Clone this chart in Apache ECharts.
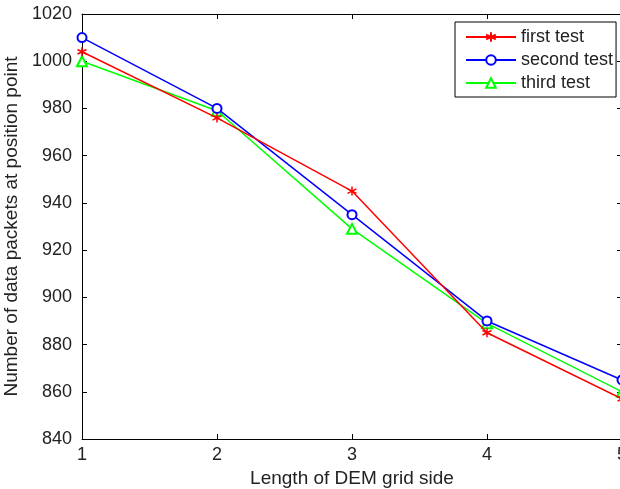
<!DOCTYPE html>
<html>
<head>
<meta charset="utf-8">
<script src="https://cdn.jsdelivr.net/npm/echarts@6/dist/echarts.min.js"></script>
<style>
  html, body { margin: 0; padding: 0; background: #fff; }
  #chart { width: 620px; height: 489px; }
</style>
</head>
<body>
<div id="chart"></div>
<script>
// data
var gridSide = [1, 2, 3, 4, 5];
var firstTest = [1004, 976, 945, 885, 857];
var secondTest = [1010, 980, 935, 890, 865];
var thirdTest = [1000, 979, 929, 889, 860];
var seriesNames = ["first test", "second test", "third test"];

function pairs(ys) {
  return gridSide.map(function (x, i) {
    return [x, ys[i]];
  });
}

function plain(v) {
  return String(v);
}

var asterisk = "path://M0,-5L0,5M-4.33,-2.5L4.33,2.5M-4.33,2.5L4.33,-2.5";
var textColor = "#222";
var font = "Liberation Sans";
var fontSize = 18;
var nameSize = 19;

var myChart = echarts.init(document.getElementById("chart"), null, { renderer: "canvas" });

var option = {
  animation: false,
  textStyle: { fontFamily: font },
  grid: { left: 82, top: 14, width: 540, height: 425, outerBoundsMode: "none", containLabel: false },
  legend: {
    orient: "vertical",
    left: 455,
    top: 22,
    padding: [6, 3, 5, 10],
    itemGap: 5,
    itemWidth: 50,
    itemHeight: 12,
    borderColor: "#000",
    borderWidth: 1,
    borderRadius: 0,
    backgroundColor: "#fff",
    textStyle: { fontFamily: font, fontSize: fontSize, color: textColor },
    data: seriesNames,
  },
  xAxis: [
    {
      type: "value",
      min: 1,
      max: 5,
      interval: 1,
      position: "bottom",
      name: "Length of DEM grid side",
      nameLocation: "middle",
      nameGap: 27,
      nameTextStyle: { fontFamily: font, fontSize: nameSize, color: textColor },
      axisLine: { onZero: false, lineStyle: { color: "#000", width: 1 } },
      axisTick: { inside: true, length: 5, lineStyle: { color: "#000" } },
      axisLabel: { fontFamily: font, fontSize: fontSize, color: textColor, margin: 7, formatter: plain },
      splitLine: { show: false },
    },
    {
      type: "value",
      min: 1,
      max: 5,
      interval: 1,
      position: "top",
      axisLine: { onZero: false, lineStyle: { color: "#000", width: 1 } },
      axisTick: { inside: true, length: 5, lineStyle: { color: "#000" } },
      axisLabel: { show: false },
      splitLine: { show: false },
    },
  ],
  yAxis: [
    {
      type: "value",
      min: 840,
      max: 1020,
      interval: 20,
      position: "left",
      name: "Number of data packets at position point",
      nameLocation: "middle",
      nameGap: 58,
      nameTextStyle: { fontFamily: font, fontSize: nameSize, color: textColor },
      axisLine: { show: true, onZero: false, lineStyle: { color: "#000", width: 1 } },
      axisTick: { show: true, inside: true, length: 5, lineStyle: { color: "#000" } },
      axisLabel: { fontFamily: font, fontSize: fontSize, color: textColor, margin: 10, formatter: plain },
      splitLine: { show: false },
    },
    {
      type: "value",
      min: 840,
      max: 1020,
      interval: 20,
      position: "right",
      axisLine: { show: true, onZero: false, lineStyle: { color: "#000", width: 1 } },
      axisTick: { show: true, inside: true, length: 5, lineStyle: { color: "#000" } },
      axisLabel: { show: false },
      splitLine: { show: false },
    },
  ],
  series: [
    {
      name: seriesNames[0],
      type: "line",
      data: pairs(firstTest),
      symbol: asterisk,
      symbolSize: 9,
      lineStyle: { color: "#ff0000", width: 1.5 },
      itemStyle: { color: "#ff0000", borderColor: "#ff0000", borderWidth: 1.5 },
      z: 3,
    },
    {
      name: seriesNames[1],
      type: "line",
      data: pairs(secondTest),
      symbol: "emptyCircle",
      symbolSize: 9,
      lineStyle: { color: "#0000ff", width: 1.5 },
      itemStyle: { color: "#0000ff", borderColor: "#0000ff", borderWidth: 1.5 },
      z: 2,
    },
    {
      name: seriesNames[2],
      type: "line",
      data: pairs(thirdTest),
      symbol: "emptyTriangle",
      symbolSize: 10,
      lineStyle: { color: "#00ff00", width: 1.5 },
      itemStyle: { color: "#00ff00", borderColor: "#00ff00", borderWidth: 1.5 },
      z: 1,
    },
  ],
};

myChart.setOption(option);
</script>
</body>
</html>
